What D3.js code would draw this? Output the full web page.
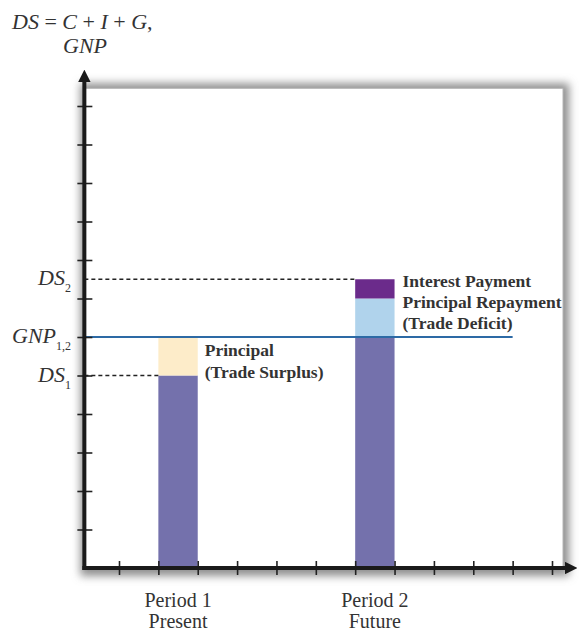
<!DOCTYPE html>
<html>
<head>
<meta charset="utf-8">
<script src="https://cdn.jsdelivr.net/npm/d3@7"></script>
<style>
  body { margin: 0; background: #fff; }
  svg text { font-family: "Liberation Serif", "Times New Roman", "DejaVu Serif", serif; fill: #333; }
</style>
</head>
<body>
<div id="container"></div>
<script>
// axis ticks (both axes use plain index ticks)
const xTicks = d3.range(1, 13);
const yTicks = d3.range(1, 13);

// levels on the y scale
const levelDS1 = 5;
const levelGNP = 6;
const levelDS2 = 7.5;

// stacked bar segments: period, from, to, colour key
const periods = ["Period 1", "Period 2"];
const periodSub = ["Present", "Future"];
const periodStart = [2, 7];          // bar spans one x tick interval
const segFrom = [0, 5, 0, 6, 7];
const segTo = [5, 6, 6, 7, 7.5];
const segPeriod = [0, 0, 1, 1, 1];
const segKind = ["spend", "surplus", "spend", "repay", "interest"];

const segColors = {
  spend: "#7471ac",
  surplus: "#fdecc9",
  repay: "#b0d3ec",
  interest: "#6b2b8b"
};

const w = 579;
const h = 632;

const xScale = d3.scaleLinear().domain([1, 12]).range([119, 552]);
const yScale = d3.scaleLinear().domain([0, 12]).range([568, 106]);

const svg = d3.select("#container")
  .append("svg")
  .attr("width", w)
  .attr("height", h);

const defs = svg.append("defs");
defs.append("filter")
  .attr("id", "shadow")
  .attr("x", "-10%").attr("y", "-10%")
  .attr("width", "120%").attr("height", "120%")
  .append("feGaussianBlur")
  .attr("stdDeviation", 4);
defs.append("marker")
  .attr("id", "arrow")
  .attr("viewBox", "0 0 10 10")
  .attr("refX", 5).attr("refY", 5)
  .attr("markerWidth", 3.2).attr("markerHeight", 3.2)
  .attr("orient", "auto")
  .append("path")
  .attr("d", "M0,0 L10,5 L0,10 z")
  .attr("fill", "#1a1a1a");

// framed plot area with soft shadow
const x0 = xScale(0.12), x1 = xScale(12.28);
const yTop = yScale(12.46), y0 = yScale(0);
svg.append("rect")
  .attr("x", x0 - 4).attr("y", yTop - 5)
  .attr("width", x1 - x0 + 10).attr("height", y0 - yTop + 13)
  .attr("fill", "#8f8f8f")
  .attr("filter", "url(#shadow)");
svg.append("rect")
  .attr("x", x0).attr("y", yTop)
  .attr("width", x1 - x0).attr("height", y0 - yTop)
  .attr("fill", "#fff")
  .attr("stroke", "#b5b5b5")
  .attr("stroke-width", 1);

// bars
const bw = xScale(2) - xScale(1);
svg.selectAll("rect.seg")
  .data(segFrom.map((d, i) => ({ from: d, to: segTo[i], p: segPeriod[i], kind: segKind[i] })))
  .enter()
  .append("rect")
  .attr("class", "seg")
  .attr("x", d => xScale(periodStart[d.p]))
  .attr("y", d => yScale(d.to))
  .attr("width", bw)
  .attr("height", d => yScale(d.from) - yScale(d.to))
  .attr("fill", d => segColors[d.kind]);

// dashed guides
svg.append("line")
  .attr("x1", x0).attr("x2", xScale(periodStart[0]))
  .attr("y1", yScale(levelDS1)).attr("y2", yScale(levelDS1))
  .attr("stroke", "#222").attr("stroke-width", 1.3)
  .attr("stroke-dasharray", "4,3");
svg.append("line")
  .attr("x1", x0).attr("x2", xScale(periodStart[1]))
  .attr("y1", yScale(levelDS2)).attr("y2", yScale(levelDS2))
  .attr("stroke", "#222").attr("stroke-width", 1.3)
  .attr("stroke-dasharray", "4,3");

// GNP line
svg.append("line")
  .attr("x1", x0).attr("x2", xScale(11))
  .attr("y1", yScale(levelGNP)).attr("y2", yScale(levelGNP))
  .attr("stroke", "#2d6aa5").attr("stroke-width", 2);

// axes, ticks straddle the axis lines
const xAxis = d3.axisBottom(xScale).tickValues(xTicks).tickSize(14).tickFormat("");
const yAxis = d3.axisLeft(yScale).tickValues(yTicks).tickSize(15).tickFormat("");

const gx = svg.append("g")
  .attr("transform", "translate(0," + (y0 - 7) + ")")
  .call(xAxis);
gx.select(".domain").remove();
gx.selectAll(".tick line").attr("stroke", "#222").attr("stroke-width", 1.6);

const gy = svg.append("g")
  .attr("transform", "translate(" + (x0 + 8) + ",0)")
  .call(yAxis);
gy.select(".domain").remove();
gy.selectAll(".tick line").attr("stroke", "#222").attr("stroke-width", 1.6);

svg.append("line")
  .attr("x1", x0).attr("x2", x0)
  .attr("y1", y0 + 2).attr("y2", 76)
  .attr("stroke", "#1a1a1a").attr("stroke-width", 4)
  .attr("marker-end", "url(#arrow)");
svg.append("line")
  .attr("x1", x0 - 2).attr("x2", 571)
  .attr("y1", y0).attr("y2", y0)
  .attr("stroke", "#1a1a1a").attr("stroke-width", 4)
  .attr("marker-end", "url(#arrow)");

// axis title
const title = svg.append("text")
  .attr("x", 12).attr("y", 29)
  .style("font-size", "22px");
title.append("tspan").style("font-style", "italic").text("DS");
title.append("tspan").text(" = ");
title.append("tspan").style("font-style", "italic").text("C");
title.append("tspan").text(" + ");
title.append("tspan").style("font-style", "italic").text("I");
title.append("tspan").text(" + ");
title.append("tspan").style("font-style", "italic").text("G");
title.append("tspan").text(",");
svg.append("text")
  .attr("x", 63).attr("y", 53)
  .style("font-size", "22px").style("font-style", "italic")
  .text("GNP");

// y level labels with subscripts
const levelLabels = [
  { main: "DS", sub: "2", v: levelDS2 },
  { main: "GNP", sub: "1,2", v: levelGNP },
  { main: "DS", sub: "1", v: levelDS1 }
];
levelLabels.forEach(d => {
  const t = svg.append("text")
    .attr("x", 71).attr("y", yScale(d.v) + 6)
    .attr("text-anchor", "end")
    .style("font-size", "22px");
  t.append("tspan").style("font-style", "italic").text(d.main);
  t.append("tspan").attr("dy", 7).style("font-size", "12px").text(d.sub);
});

// segment annotations
const noteStyle = t => t.style("font-size", "17.5px").style("font-weight", "bold").style("fill", "#333");
const n1x = xScale(periodStart[0] + 1) + 7;
const note1 = svg.append("text").attr("x", n1x).attr("y", yScale(levelGNP) + 19);
noteStyle(note1);
note1.append("tspan").text("Principal");
note1.append("tspan").attr("x", n1x).attr("dy", 22).text("(Trade Surplus)");

const n2x = xScale(periodStart[1] + 1) + 8;
const note2 = svg.append("text").attr("x", n2x).attr("y", yScale(levelDS2) + 8);
noteStyle(note2);
note2.append("tspan").text("Interest Payment");
note2.append("tspan").attr("x", n2x).attr("dy", 21).text("Principal Repayment");
note2.append("tspan").attr("x", n2x).attr("dy", 21).text("(Trade Deficit)");

// period labels
periods.forEach((p, i) => {
  const cx = xScale(periodStart[i] + 0.5);
  svg.append("text")
    .attr("x", cx).attr("y", 607)
    .attr("text-anchor", "middle")
    .style("font-size", "20px")
    .text(p);
  svg.append("text")
    .attr("x", cx).attr("y", 628)
    .attr("text-anchor", "middle")
    .style("font-size", "20px")
    .text(periodSub[i]);
});
</script>
</body>
</html>
